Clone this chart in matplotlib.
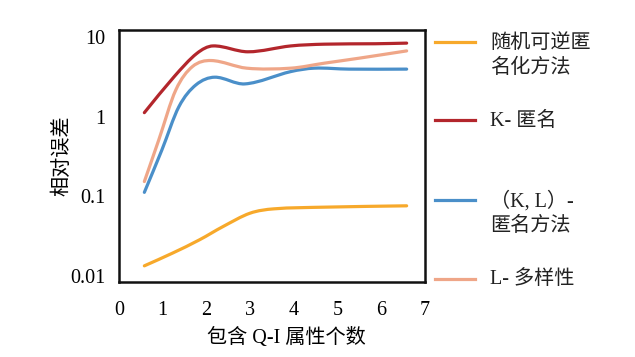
import numpy as np
import matplotlib
matplotlib.use('Agg')
from matplotlib import pyplot as plt
from matplotlib.path import Path
from matplotlib.patches import PathPatch

plt.rcParams['font.family'] = ['Liberation Serif', 'Noto Sans CJK SC']

# values (points along each smoothed curve)
x_random = [0.58, 1.22, 1.84, 2.38, 3.0, 3.54, 4.70, 6.58]
y_random = [0.0134, 0.0193, 0.0284, 0.0417, 0.0614, 0.0695, 0.0730, 0.0759]

x_k = [0.58, 1.26, 1.78, 2.15, 2.95, 3.93, 4.70, 5.86, 6.58]
y_k = [1.12, 3.16, 6.2, 7.7, 6.5, 7.7, 8.1, 8.2, 8.35]

x_kl = [0.58, 0.98, 1.37, 1.76, 2.19, 2.88, 3.93, 4.47, 5.26, 6.58]
y_kl = [0.112, 0.38, 1.33, 2.5, 3.12, 2.57, 3.67, 4.05, 3.94, 3.94]

x_l = [0.58, 0.91, 1.30, 1.68, 2.11, 2.92, 3.93, 4.70, 5.49, 6.58]
y_l = [0.153, 0.51, 2.16, 4.24, 5.05, 4.05, 4.05, 4.68, 5.4, 6.67]

labels = ['随机可逆匿\n名化方法', 'K- 匿名', '（K, L）-\n匿名方法', 'L- 多样性']
colors = ['#F7A92B', '#B3262C', '#4A8FC9', '#EFA688']
series = [(x_random, y_random), (x_k, y_k), (x_kl, y_kl), (x_l, y_l)]

x_ticks = [0, 1, 2, 3, 4, 5, 6, 7]
y_ticks = [0.01, 0.1, 1, 10]
y_tick_labels = ['0.01', '0.1', '1', '10']


def smooth_path(xs, ys):
    # smoothed line as bezier segments, worked out in log space
    x = np.asarray(xs, float)
    y = np.log10(ys)
    n = len(x)
    m = np.zeros(n)
    m[0] = (y[1] - y[0]) / (x[1] - x[0])
    m[-1] = (y[-1] - y[-2]) / (x[-1] - x[-2])
    m[1:-1] = (y[2:] - y[:-2]) / (x[2:] - x[:-2])
    verts = [(x[0], y[0])]
    codes = [Path.MOVETO]
    for i in range(n - 1):
        h = (x[i + 1] - x[i]) / 3
        verts += [(x[i] + h, y[i] + m[i] * h),
                  (x[i + 1] - h, y[i + 1] - m[i + 1] * h),
                  (x[i + 1], y[i + 1])]
        codes += [Path.CURVE4] * 3
    verts = np.array(verts)
    verts[:, 1] = 10 ** verts[:, 1]
    return Path(verts, codes)


fig = plt.figure(figsize=(6.35, 3.57), dpi=100)
ax = fig.add_axes([119/635, 75/357, 306/635, 252/357])
ax.set_yscale('log')

for (xs, ys), col in zip(series, colors):
    patch = PathPatch(smooth_path(xs, ys), fill=False, edgecolor=col,
                      linewidth=2.3, capstyle='round', joinstyle='round')
    ax.add_patch(patch)

ax.set_xlim(0, 7)
ax.set_ylim(0.0084, 12.2)
ax.set_xticks(x_ticks)
ax.set_xticklabels([str(t) for t in x_ticks])
ax.set_yticks(y_ticks)
ax.set_yticklabels(y_tick_labels)
ax.yaxis.set_minor_locator(matplotlib.ticker.NullLocator())
ax.tick_params(axis='both', length=0, labelsize=14.5)
ax.tick_params(axis='x', pad=14)
ax.tick_params(axis='y', pad=10)
for s in ax.spines.values():
    s.set_linewidth(1.8)
    s.set_color('#111111')

ax.set_xlabel('包含 Q-I 属性个数', fontsize=14.5, fontweight='light')
ax.xaxis.set_label_coords(0.546, -0.222)
ax.xaxis.label.set_va('center')
ax.set_ylabel('相对误差', fontsize=14.5, fontweight='light')
ax.yaxis.set_label_coords(-0.184, 0.5)
ax.yaxis.label.set_va('center')

# hand-made legend at the right
leg_y = [42, 120, 200, 279]
for lab, col, yy in zip(labels, colors, leg_y):
    yf = 1 - yy / 357
    fig.add_artist(plt.Line2D([435/635, 475/635], [yf, yf], color=col,
                              linewidth=2.3, transform=fig.transFigure))
    for i, part in enumerate(lab.split('\n')):
        fig.text(490/635, 1 - (yy + 1 + i * 25) / 357, part, fontsize=14.5,
                 fontweight='light', va='center', ha='left', color='#222222')

fig.savefig('out.png', dpi=100)
